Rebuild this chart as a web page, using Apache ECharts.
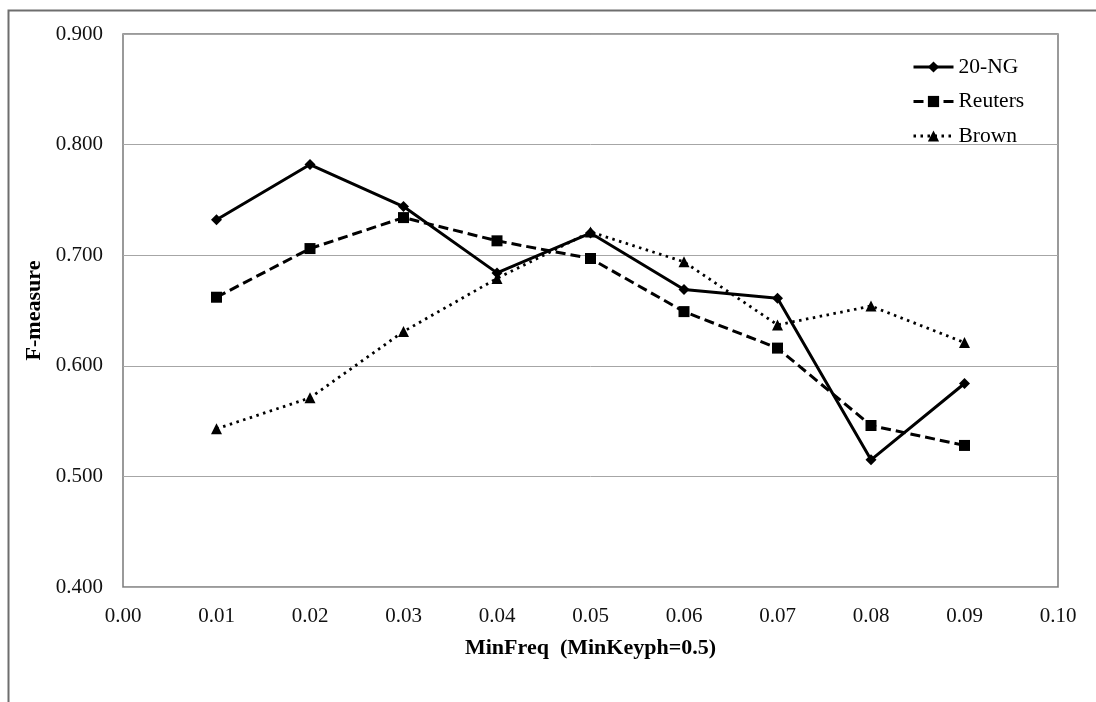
<!DOCTYPE html>
<html>
<head>
<meta charset="utf-8">
<script src="https://cdn.jsdelivr.net/npm/echarts@6/dist/echarts.min.js"></script>
<style>
html,body{margin:0;padding:0;background:#fff;}
#chart{width:1096px;height:702px;}
</style>
</head>
<body>
<div id="chart"></div>
<script>
const xValues = [0.01, 0.02, 0.03, 0.04, 0.05, 0.06, 0.07, 0.08, 0.09];
const ng20 = [0.732, 0.782, 0.744, 0.684, 0.720, 0.669, 0.661, 0.515, 0.584];
const reuters = [0.662, 0.706, 0.734, 0.713, 0.697, 0.649, 0.616, 0.546, 0.528];
const brown = [0.543, 0.571, 0.631, 0.679, 0.721, 0.694, 0.637, 0.654, 0.621];
const seriesNames = ['20-NG', 'Reuters', 'Brown'];
const xTitle = 'MinFreq  (MinKeyph=0.5)';
const yTitle = 'F-measure';

const font = '"Liberation Serif", "DejaVu Serif", serif';
const pairs = arr => xValues.map((x, i) => [x, arr[i]]);

const chart = echarts.init(document.getElementById('chart'), null, {renderer: 'canvas'});
chart.setOption({
  animation: false,
  backgroundColor: '#fff',
  textStyle: {fontFamily: font},
  graphic: [{
    type: 'rect', silent: true, z: -1,
    shape: {x: 8.5, y: 10.5, width: 1300, height: 900},
    style: {fill: 'none', stroke: '#6e6e6e', lineWidth: 2}
  }],
  grid: {
    left: 123, top: 34, width: 935, height: 553,
    show: true, borderColor: '#7a7a7a', borderWidth: 1.5, backgroundColor: 'transparent'
  },
  legend: {
    orient: 'vertical', left: 907, top: 51,
    itemWidth: 40, itemHeight: 14, itemGap: 12.5,
    textStyle: {fontFamily: font, fontSize: 21.5, color: '#000'},
    lineStyle: {width: 3},
    data: seriesNames
  },
  xAxis: {
    type: 'value', min: 0, max: 0.1, interval: 0.01,
    name: xTitle, nameLocation: 'middle', nameGap: 50,
    nameTextStyle: {fontFamily: font, fontSize: 22, fontWeight: 'bold', color: '#000'},
    axisLine: {show: false},
    axisTick: {show: false},
    splitLine: {show: false},
    axisLabel: {fontFamily: font, fontSize: 21, color: '#111', margin: 19,
      formatter: v => v.toFixed(2)}
  },
  yAxis: {
    type: 'value', min: 0.4, max: 0.9, interval: 0.1,
    name: yTitle, nameLocation: 'middle', nameGap: 67, nameRotate: 90,
    nameTextStyle: {fontFamily: font, fontSize: 22, fontWeight: 'bold', color: '#000'},
    axisLine: {show: false},
    axisTick: {show: false},
    splitLine: {show: true, lineStyle: {color: '#a6a6a6', width: 1}},
    axisLabel: {fontFamily: font, fontSize: 21, color: '#111', margin: 20,
      formatter: v => v.toFixed(3)}
  },
  series: [
    {
      name: seriesNames[0], type: 'line', data: pairs(ng20),
      symbol: 'diamond', symbolSize: 11,
      lineStyle: {color: '#000', width: 3, type: 'solid'},
      itemStyle: {color: '#000'}
    },
    {
      name: seriesNames[1], type: 'line', data: pairs(reuters),
      symbol: 'rect', symbolSize: 11,
      lineStyle: {color: '#000', width: 3, type: [10, 5]},
      itemStyle: {color: '#000'}
    },
    {
      name: seriesNames[2], type: 'line', data: pairs(brown),
      symbol: 'triangle', symbolSize: 11,
      lineStyle: {color: '#000', width: 2.8, type: [2.5, 4.5]},
      itemStyle: {color: '#000'}
    }
  ]
});
</script>
</body>
</html>
